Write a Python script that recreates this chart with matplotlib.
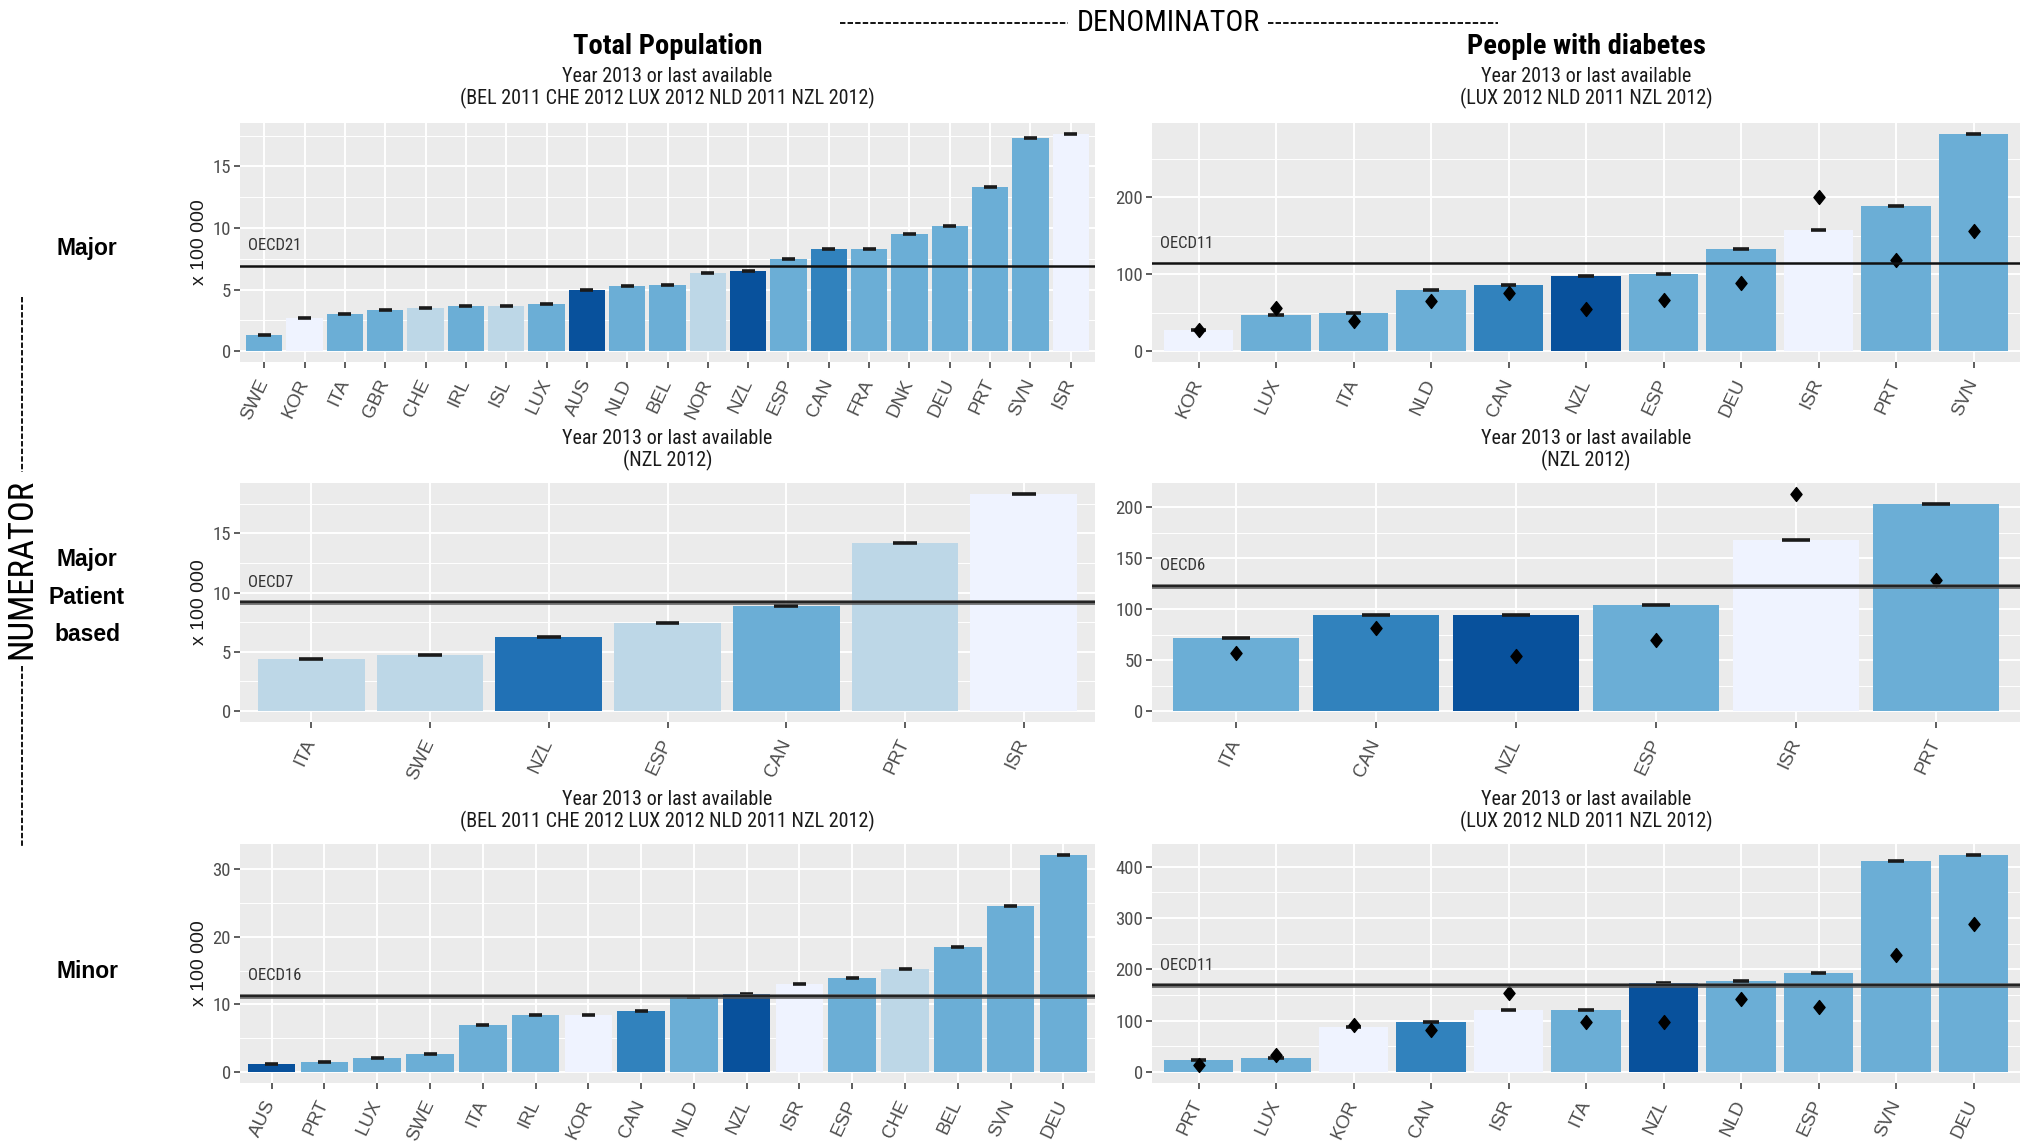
import matplotlib
matplotlib.use("Agg")
import matplotlib.pyplot as plt
from matplotlib.lines import Line2D
from matplotlib.path import Path
from matplotlib import font_manager as fm
import matplotlib.transforms as mtransforms
import numpy as np

W, H = 2025, 1143
DPI = 100

# pick a condensed sans if one is installed, otherwise shrink the regular one
_installed = {f.name for f in fm.fontManager.ttflist}
_condensed = ["Liberation Sans Narrow", "Roboto Condensed", "Open Sans Condensed",
              "Arial Narrow", "Nimbus Sans Narrow"]
_found = next((n for n in _condensed if n in _installed), None)
if _found:
    NARROW = [_found, "Liberation Sans", "DejaVu Sans"]
    NSCALE = 1.0
else:
    NARROW = ["Liberation Sans", "DejaVu Sans"]
    NSCALE = 0.85
PLAIN = ["Liberation Sans", "DejaVu Sans"]


def ns(size):
    return size * NSCALE


# Blues shades, indexed from lightest to darkest
BLUES = ["#EFF3FF", "#BDD7E7", "#6BAED6", "#3182BD", "#2171B5", "#08519C"]

# ---- Major / Total population (rate x 100 000) ----
maj_pop_cty = ["SWE", "KOR", "ITA", "GBR", "CHE", "IRL", "ISL", "LUX", "AUS", "NLD", "BEL",
               "NOR", "NZL", "ESP", "CAN", "FRA", "DNK", "DEU", "PRT", "SVN", "ISR"]
maj_pop_val = [1.28, 2.70, 3.03, 3.33, 3.49, 3.65, 3.68, 3.82, 4.94, 5.26, 5.40,
               6.35, 6.52, 7.50, 8.26, 8.28, 9.54, 10.14, 13.33, 17.29, 17.64]
maj_pop_shade = [2, 0, 2, 2, 1, 2, 1, 2, 5, 2, 2, 1, 5, 2, 3, 2, 2, 2, 2, 2, 0]
maj_pop_oecd = 6.93

# ---- Major / People with diabetes ----
maj_dia_cty = ["KOR", "LUX", "ITA", "NLD", "CAN", "NZL", "ESP", "DEU", "ISR", "PRT", "SVN"]
maj_dia_val = [27, 47.4, 49.6, 80, 85.7, 97.4, 100, 133, 158, 188.7, 282.6]
maj_dia_pt = [28, 56.5, 39, 65, 75, 55, 66, 88.7, 201, 118, 156.5]
maj_dia_shade = [0, 2, 2, 2, 3, 5, 2, 2, 0, 2, 2]
maj_dia_oecd = 114

# ---- Major patient based / Total population ----
mpb_pop_cty = ["ITA", "SWE", "NZL", "ESP", "CAN", "PRT", "ISR"]
mpb_pop_val = [4.43, 4.74, 6.25, 7.44, 8.89, 14.2, 18.32]
mpb_pop_shade = [1, 1, 4, 1, 2, 1, 0]
mpb_pop_oecd = 9.18

# ---- Major patient based / People with diabetes ----
mpb_dia_cty = ["ITA", "CAN", "NZL", "ESP", "ISR", "PRT"]
mpb_dia_val = [71.8, 94, 94.5, 103.6, 167.8, 203.5]
mpb_dia_pt = [57.4, 81.7, 54.5, 69.7, 213, 129]
mpb_dia_shade = [2, 3, 5, 2, 0, 2]
mpb_dia_oecd = 123

# ---- Minor / Total population ----
min_pop_cty = ["AUS", "PRT", "LUX", "SWE", "ITA", "IRL", "KOR", "CAN", "NLD", "NZL", "ISR",
               "ESP", "CHE", "BEL", "SVN", "DEU"]
min_pop_val = [1.19, 1.44, 2.09, 2.63, 6.95, 8.4, 8.4, 9.0, 11.03, 11.57, 13.0,
               13.86, 15.3, 18.53, 24.6, 32.1]
min_pop_shade = [5, 2, 2, 2, 2, 2, 0, 3, 2, 5, 0, 2, 1, 2, 2, 2]
min_pop_oecd = 11.28

# ---- Minor / People with diabetes ----
min_dia_cty = ["PRT", "LUX", "KOR", "CAN", "ISR", "ITA", "NZL", "NLD", "ESP", "SVN", "DEU"]
min_dia_val = [22.7, 27.3, 87.7, 98, 121.4, 121.4, 174, 178, 193, 412, 423]
min_dia_pt = [13, 32.5, 91.6, 83, 154, 97.4, 97.4, 143, 126.6, 228, 287.7]
min_dia_shade = [2, 2, 0, 3, 0, 2, 5, 2, 2, 2, 2]
min_dia_oecd = 168.8

SUB_ALL = "Year 2013 or last available\n(BEL 2011 CHE 2012 LUX 2012 NLD 2011 NZL 2012)"
SUB_DIA = "Year 2013 or last available\n(LUX 2012 NLD 2011 NZL 2012)"
SUB_NZL = "Year 2013 or last available\n(NZL 2012)"

# diamond marker, a little taller than wide
DIAMOND = Path([(0, 1), (0.8, 0), (0, -1), (-0.8, 0), (0, 1)],
               [Path.MOVETO, Path.LINETO, Path.LINETO, Path.LINETO, Path.CLOSEPOLY])


def fx(x):
    return x / W


def fy(y):
    return 1 - y / H


def make_axes(fig, left, top, right, bottom):
    return fig.add_axes([fx(left), fy(bottom), (right - left) / W, (bottom - top) / H])


def draw_panel(ax, countries, values, shades, oecd, oecd_label, step,
               points=None, ylabel=False, line_kind="thin"):
    n = len(countries)
    x = np.arange(n)
    top = max(max(values), max(points) if points else 0, oecd)
    lo, hi = -0.05 * top, 1.05 * top
    ax.set_facecolor("#EBEBEB")
    ax.set_xlim(-0.6, n - 0.4)
    ax.set_ylim(lo, hi)

    majors = np.arange(0, hi, step)
    minors = np.arange(step / 2, hi, step)
    for m in minors:
        ax.axhline(m, color="white", lw=0.7, zorder=0)
    for m in majors:
        ax.axhline(m, color="white", lw=1.4, zorder=0)
    for xi in x:
        ax.axvline(xi, color="white", lw=1.4, zorder=0)

    ax.bar(x, values, width=0.9, color=[BLUES[s] for s in shades], zorder=2, linewidth=0)

    # confidence marker at the top of each bar
    bbox = ax.get_position()
    px_per_unit = bbox.width * W / (n + 0.2)
    half = max(0.1, 6.5 / px_per_unit)
    ax.hlines(values, x - half, x + half, colors="#1A1A1A", lw=2.6, zorder=3)

    if points:
        ax.plot(x, points, ls="none", marker=DIAMOND, ms=10, color="black", zorder=4)

    if line_kind == "thin":
        ax.axhline(oecd, color="#111111", lw=1.8, zorder=5)
    else:
        ax.axhline(oecd, color="#555555", lw=3.4, alpha=0.85, zorder=5)
        ax.axhline(oecd, color="#222222", lw=1.4, zorder=5)

    trans = mtransforms.blended_transform_factory(ax.transAxes, ax.transData)
    ax.annotate(oecd_label, xy=(0.0, oecd), xycoords=trans, xytext=(6, 9),
                textcoords="offset points", fontsize=ns(12), color="#333333",
                family=NARROW, va="bottom", ha="left", zorder=6)

    ax.set_yticks(majors)
    ax.set_yticklabels([f"{int(v)}" for v in majors], family=NARROW, fontsize=ns(13.5),
                       color="#4D4D4D")
    ax.set_xticks(x)
    ax.set_xticklabels(countries, rotation=65, ha="right", va="center",
                       rotation_mode="anchor", fontsize=13.5, color="#4D4D4D",
                       family=PLAIN)
    ax.tick_params(axis="both", length=4, width=1.1, color="#333333", pad=2.5)
    ax.tick_params(axis="x", pad=9)
    for s in ax.spines.values():
        s.set_visible(False)
    if ylabel:
        ax.set_ylabel("x 100 000", fontsize=14, color="#1A1A1A", family=PLAIN, labelpad=3)


fig = plt.figure(figsize=(W / DPI, H / DPI), dpi=DPI, facecolor="white")

LX0, LX1 = 240, 1095
RX0, RX1 = 1152, 2020
ROWS = [(123, 362), (483, 722), (844, 1083)]

ax = make_axes(fig, LX0, ROWS[0][0], LX1, ROWS[0][1])
draw_panel(ax, maj_pop_cty, maj_pop_val, maj_pop_shade, maj_pop_oecd, "OECD21", 5,
           ylabel=True, line_kind="thin")
ax = make_axes(fig, RX0, ROWS[0][0], RX1, ROWS[0][1])
draw_panel(ax, maj_dia_cty, maj_dia_val, maj_dia_shade, maj_dia_oecd, "OECD11", 100,
           points=maj_dia_pt, line_kind="thin")

ax = make_axes(fig, LX0, ROWS[1][0], LX1, ROWS[1][1])
draw_panel(ax, mpb_pop_cty, mpb_pop_val, mpb_pop_shade, mpb_pop_oecd, "OECD7", 5,
           ylabel=True, line_kind="thick")
ax = make_axes(fig, RX0, ROWS[1][0], RX1, ROWS[1][1])
draw_panel(ax, mpb_dia_cty, mpb_dia_val, mpb_dia_shade, mpb_dia_oecd, "OECD6", 50,
           points=mpb_dia_pt, line_kind="thick")

ax = make_axes(fig, LX0, ROWS[2][0], LX1, ROWS[2][1])
draw_panel(ax, min_pop_cty, min_pop_val, min_pop_shade, min_pop_oecd, "OECD16", 10,
           ylabel=True, line_kind="thick")
ax = make_axes(fig, RX0, ROWS[2][0], RX1, ROWS[2][1])
draw_panel(ax, min_dia_cty, min_dia_val, min_dia_shade, min_dia_oecd, "OECD11", 100,
           points=min_dia_pt, line_kind="thick")

# column headings
lc = (LX0 + LX1) / 2
rc = (RX0 + RX1) / 2
fig.text(fx(lc), fy(47), "Total Population", ha="center", va="center",
         fontsize=ns(20.5), fontweight="bold", family=NARROW)
fig.text(fx(rc), fy(47), "People with diabetes", ha="center", va="center",
         fontsize=ns(20.5), fontweight="bold", family=NARROW)

sub_specs = [(lc, 88, SUB_ALL), (rc, 88, SUB_DIA),
             (lc, 450, SUB_NZL), (rc, 450, SUB_NZL),
             (lc, 811, SUB_ALL), (rc, 811, SUB_DIA)]
for cx, cy, txt in sub_specs:
    fig.text(fx(cx), fy(cy), txt, ha="center", va="center", fontsize=ns(14.5),
             family=NARROW, linespacing=1.12, color="#1A1A1A")

# denominator banner
fig.text(fx(1168), fy(23), "DENOMINATOR", ha="center", va="center", fontsize=ns(21.5),
         family=NARROW)
for x0, x1 in [(840, 1068), (1268, 1498)]:
    fig.add_artist(Line2D([fx(x0), fx(x1)], [fy(23), fy(23)], transform=fig.transFigure,
                          color="black", lw=1.3, ls=(0, (3, 1.2))))

# numerator banner
fig.text(fx(22), fy(569), "NUMERATOR", ha="center", va="center", fontsize=ns(25),
         family=NARROW, rotation=90)
for y0, y1 in [(297, 472), (666, 846)]:
    fig.add_artist(Line2D([fx(22), fx(22)], [fy(y0), fy(y1)], transform=fig.transFigure,
                          color="black", lw=1.3, ls=(0, (3, 1.2))))

# row labels
fig.text(fx(87), fy(249), "Major", ha="center", va="center", fontsize=16.5,
         fontweight="bold", family=PLAIN)
fig.text(fx(87), fy(597), "Major\nPatient\nbased", ha="center", va="center", fontsize=16.5,
         fontweight="bold", family=PLAIN, linespacing=1.8)
fig.text(fx(87), fy(971), "Minor", ha="center", va="center", fontsize=16.5,
         fontweight="bold", family=PLAIN)

fig.savefig("out.png", dpi=DPI, facecolor="white")
